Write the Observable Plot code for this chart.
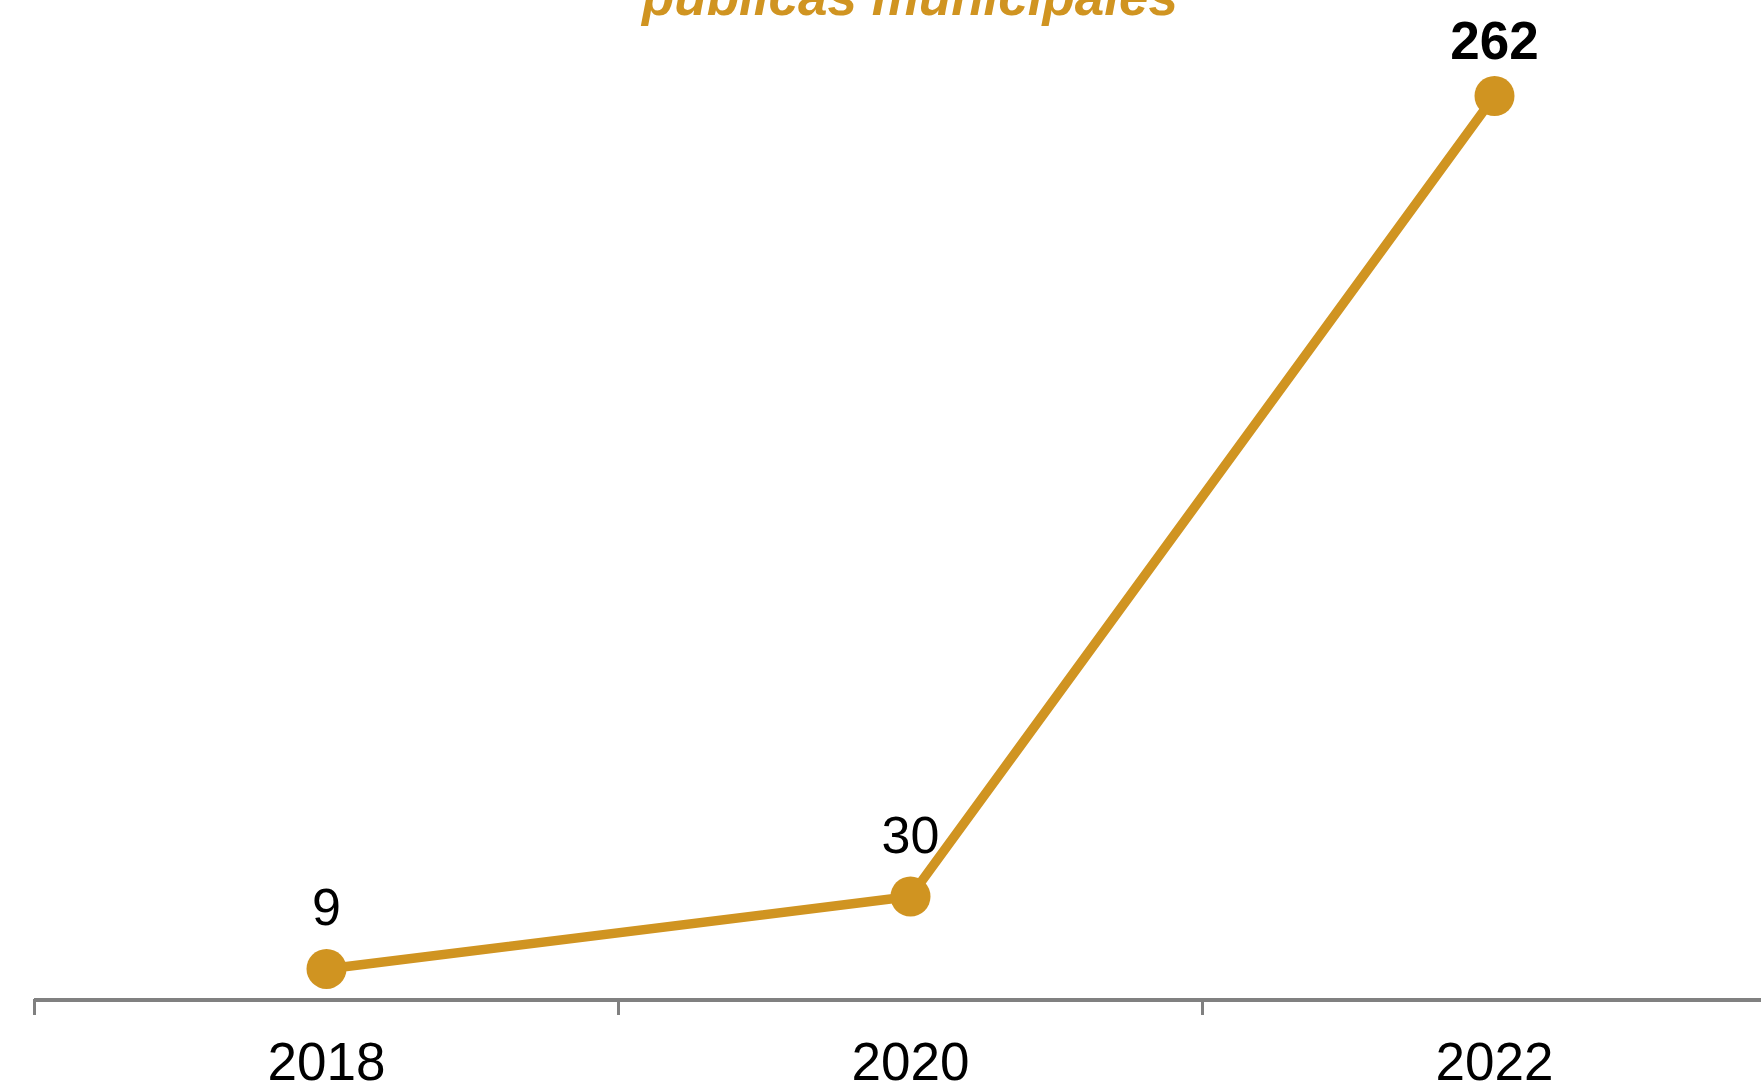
<!DOCTYPE html>
<html><head><meta charset="utf-8">
<script src="https://cdn.jsdelivr.net/npm/d3@7"></script>
<script src="https://cdn.jsdelivr.net/npm/@observablehq/plot@0.6"></script>
<style>
html,body{margin:0;padding:0;background:#fff;overflow:hidden;}
#wrap{position:relative;width:1761px;height:1083px;overflow:hidden;}
#title{position:absolute;left:0;width:1820px;top:-30px;text-align:center;font-family:"Liberation Sans",Arial,sans-serif;font-weight:bold;font-style:italic;font-size:53px;line-height:53px;color:#D09421;white-space:nowrap;z-index:2;}
#chart{position:absolute;left:0;top:0;}
</style>
</head><body>
<div id="wrap"><div id="title">públicas municipales</div><div id="chart"></div></div>
<script>
const years = [2018, 2020, 2022];
const values = [9, 30, 262];
const tickYears = [2017, 2019, 2021, 2023];
const tickLabels = ["2018", "2020", "2022"];
const gold = "#D09421";

const data = years.map((y, i) => ({year: y, value: values[i]}));
const last = data.slice(-1);
const rest = data.slice(0, -1);

const chart = Plot.plot({
  width: 1761, height: 1083,
  marginTop: 0, marginLeft: 0, marginRight: 0, marginBottom: 84,
  style: {fontFamily: '"Liberation Sans", Arial, sans-serif', background: "transparent", overflow: "visible"},
  x: {type: "linear", domain: [2017, 2023], range: [34, 1786]},
  y: {domain: [0, 262], range: [999.5, 95.5], axis: null},
  marks: [
    Plot.ruleY([0], {x1: 2017, x2: 2023, stroke: "#808080", strokeWidth: 4}),
    Plot.axisX({ticks: tickYears, tickSize: 16, tickFormat: () => "", stroke: "#808080", strokeWidth: 3, label: null}),
    Plot.axisX({ticks: years, tickSize: 0, tickPadding: 43, fontSize: 53, fill: "#000", tickFormat: (d, i) => tickLabels[i], label: null}),
    Plot.line(data, {x: "year", y: "value", stroke: gold, strokeWidth: 9.5}),
    Plot.dot(data, {x: "year", y: "value", r: 20, fill: gold}),
    Plot.text(rest, {x: "year", y: "value", text: d => String(d.value), dy: -43.5, lineAnchor: "bottom", fontSize: 52, fill: "#000"}),
    Plot.text(last, {x: "year", y: "value", text: d => String(d.value), dy: -37.5, lineAnchor: "bottom", fontSize: 53, fontWeight: "bold", fill: "#000"})
  ]
});
document.getElementById("chart").appendChild(chart);
</script>
</body></html>
